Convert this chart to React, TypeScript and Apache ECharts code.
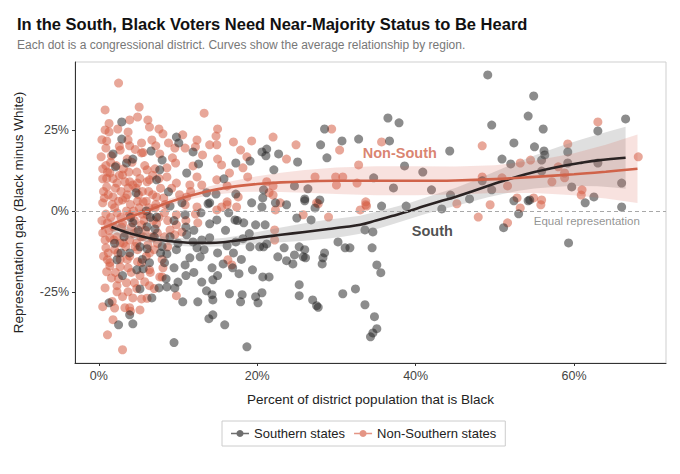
import React, { useEffect, useRef } from "react";
import * as echarts from "echarts";

// ---------------- DATA ----------------
const xTicks = [0, 20, 40, 60];
const yTicks = [-25, 0, 25];

const southPoints: [number, number][] = [
  [2.9, 27.5], [2.9, 22.2], [1.8, 17.6], [2.1, 13.6], [3.5, 14.8], [4.3, 16], [6.6, 18.5], [8.0, 15.7], [7.7, 12.7], [9.8, 22.8],
  [10.1, 21], [11.9, 18.2], [11.1, 11.7], [12.6, 14.5], [7.3, 9.6], [4.7, 5.6], [8.8, 5.9], [13.6, 5.6], [14.0, 2.5], [14.8, 5.2],
  [15.8, 9.9], [17.3, 14.8], [19.1, 15.4], [20.6, 18.2], [21.1, 17], [19.3, 2.5], [20.7, 4], [17.3, 5.2], [20.6, 1.2], [9.0, 1.5],
  [10.5, 2.5], [4.3, -3.7], [7.3, -1.9], [10.9, -1.2], [12.9, -0.6], [13.8, 2.2], [14.9, -2.8], [16.4, -0.6], [17.2, -2.8], [18.3, -3.7],
  [19.8, -4.3], [21, -4.3], [6.1, -4.9], [7.1, -5.6], [2.3, -15.1], [2.8, -13], [3.9, -13], [5.2, -11.1], [6.1, -11.7], [7.8, -13],
  [8.6, -13.3], [9.8, -12], [11.1, -7.4], [11.9, -9.6], [12.4, -11.4], [13.3, -12], [14, -8.3], [16.2, -10.8], [17.3, -9.6], [18.2, -8.6],
  [19.1, -11.1], [20.3, -11.1], [21.2, -10.2], [4.8, -18.2], [5.6, -17.9], [6.4, -16], [8.3, -16], [9.5, -17.6], [10.9, -16.7], [11.5, -14.5],
  [12.8, -14.2], [14.3, -17.6], [14.4, -21.3], [15.7, -16.4], [16.9, -17.6], [17.7, -19.4], [19.4, -18.2], [20.7, -20.4], [21.5, -20.4], [5.2, -24.1],
  [6.7, -26.9], [7.6, -23.8], [8.6, -23.5], [9.6, -23.8], [10.6, -28.1], [12.5, -28.1], [13.6, -24.7], [14.3, -25.9], [14.4, -27.5], [16.5, -25.6],
  [18.1, -25.9], [17.9, -28.1], [19.8, -26.5], [20.1, -28.4], [1.3, -28.4], [3.9, -32.1], [4.3, -34.9], [2.5, -35.2], [14.4, -32.1], [13.9, -33.3],
  [15.9, -35.2], [9.5, -40.7], [18.7, -42],
  [36.5, 28.7], [37.9, 27.2], [28.5, 25.3], [30.7, 21.6], [32.8, 22.2], [36.7, 21.6], [28.0, 20.4], [28.8, 16.4], [44.3, 18.5], [21.2, 19.1],
  [22.7, 17.6], [25.1, 15.1], [22.1, 12.7], [38.6, 13.9], [40.9, 12], [34.7, 10.2], [24.7, 7.7], [26.4, 6.8], [37.2, 7.1], [42, 6.5],
  [26, 3.7], [27.9, 3.4], [20.8, 6.5], [22.3, 2.5], [23.7, 1.9], [27.3, 0.9], [35.7, 1.5], [38.8, 1.5], [44.4, 4.9], [43.3, 0.6],
  [20.8, -11.1], [23.4, -11.4], [22.6, -14.2], [23.7, -15.4], [24.5, -16.4], [24.7, -13.6], [25.3, -11.1], [26, -12], [25.8, -14.2], [26.1, -14.5],
  [25, -2.2], [26.8, -2.8], [26, 3.1], [28.5, -13], [28.3, -14.5], [28.2, -16.4], [30.2, -9.6], [31.1, -11.4], [31.7, -11.4], [33.6, -5.9],
  [34.6, -6.5], [34.5, -11.4], [35.1, -16.7], [35.6, -19.1], [20.6, -25.3], [25.3, -22.8], [25.3, -26.2], [27, -27.5], [27.5, -29.3], [27.7, -29.8],
  [30.8, -25.6], [32.4, -24.1], [33.6, -29], [34.8, -32.7], [35.1, -36.4], [34.6, -37.7], [34.3, -38.9],
  [49.1, 42], [54.9, 35.5], [54.2, 29.3], [49.6, 26.5], [56.1, 25.3], [66.5, 28.4], [63, 24.7], [52.4, 21], [55, 19.8], [56.2, 18.5],
  [56.3, 17.3], [50.9, 16], [52, 14.5], [55.9, 15.7], [59.2, 18.2], [59.2, 14.8], [55.9, 12.3], [63, 14.8], [48.4, 9.3], [49.6, 6.5],
  [59.7, 7.4], [66, 8.6], [46.8, 3.7], [52.4, 3.1], [54.2, 3.1], [54.4, 3.4], [61.4, 2.5], [62.5, 4.3], [53, -0.9], [66, 1.2],
  [51.1, -5.2], [59.3, -9.9],
  [3.2, -8], [4, -2], [5, -6], [5.5, -15], [6.5, -2], [3, -20], [2, -10], [6, 0], [7, -8], [8, -11],
  [9, -8], [10, -10], [11, -5], [12, -6], [13, -9], [9.5, -3], [8.5, -21], [10, -22], [11, -20], [12, -19],
  [13, -22], [15, -13], [16, -6], [17, -13], [18, -15], [19, -7], [15, -20], [14, -4], [17.5, -3],
];

const nonSouthPoints: [number, number][] = [
  [2.5, 39.5], [0.8, 31.2], [5.1, 32.1], [13.3, 30.2], [4.9, 29], [3.9, 28.1], [6.2, 28.1], [0.8, 25], [1.3, 24.4], [2.4, 25.3],
  [3.7, 24.4], [6.4, 25.9], [7.6, 25.3], [8.1, 23.8], [10.6, 23.5], [12.4, 21.9], [15, 25.3], [14.8, 23.1], [14, 20.4], [14.9, 20.4],
  [17, 21.3], [19.3, 21.6], [1, 21.6], [0.9, 19.4], [0.3, 16.7], [2.7, 18.8], [3.9, 20.1], [3.7, 21.9], [5.4, 21], [6.7, 21.9],
  [7.2, 20.1], [8.8, 21], [9.6, 19.4], [10.9, 19.4], [12.2, 19.8], [5.4, 17.9], [7.7, 17.6], [9.3, 16.4], [13.1, 17.3], [15, 16],
  [15.5, 14.2], [17.9, 18.8], [18.7, 16.7], [0.5, 13], [1.4, 11.7], [3, 11.1], [4.8, 12], [6.1, 12.7], [8.6, 13.3], [9.7, 14.8],
  [11.9, 13.9], [16.5, 11.7], [18.2, 13.3], [18.8, 10.5], [0.5, 9.9], [1, 7.4], [2.3, 8.6], [3.7, 7.1], [4.9, 8.6], [6.4, 9.6],
  [8.6, 10.5], [9.8, 8.6], [11.5, 8], [12.4, 10.5], [14.9, 9.6], [16.2, 7.7], [17.6, 4.3], [0.5, 2.5], [1.8, 4.3], [3, 3.4],
  [5.6, 2.8], [7.3, 4.3], [11.1, 4.3], [12.4, 1.2], [15.5, 1.2], [16.2, 2.8],
  [0.5, -6.8], [0.9, -11.4], [1.1, -15.1], [1, -18.8], [0.8, -23.8], [0.5, -29.6], [1.8, -33.6], [1.1, -38.3], [3, -42.9], [3, -26.5],
  [3.3, -29.9], [3.9, -29.9], [4.3, -26.9], [5.2, -30.6], [5.4, -27.2], [2.3, -23.1], [2.5, -21], [1.6, -20.7], [3.5, -22.2], [4.5, -22.2],
  [5.8, -21.9], [6.4, -23.1], [7.7, -20.4], [9.8, -26.2], [1.4, -8.3], [2, -12], [2.7, -9.9], [3.3, -6.8], [3.9, -9], [4.8, -6.5],
  [5.6, -8], [4.8, -9.9], [6.2, -10.5], [6.8, -8.3], [7.4, -6.8], [8.3, -8], [9, -5.9], [9.8, -4.3], [10.5, -6.5], [12.5, -3.7],
  [4.9, -15.7], [6.4, -18.2], [8.1, -17.6], [8, -20.4], [1.4, -16], [2.7, -17.3], [3.7, -17.6], [8.3, -0.6], [9.8, -1.2], [10.9, 1.9],
  [14.9, 0.3], [16.2, 1.9], [17.4, 1.2], [6.1, -1.2], [7.1, 0.9], [3.9, -1.2], [2.3, -0.6], [1.1, -3.7], [5.4, -4.3], [9.6, -7.4],
  [8.7, -11.1], [16.3, -15.1], [16.8, -16.7],
  [22, 22.8], [24.9, 20.4], [29.4, 25.3], [30.4, 18.8], [35.7, 21.3], [23.7, 16], [32.8, 14.2], [27.3, 10.5], [29.9, 10.5], [30.8, 10.5],
  [30, 8], [32.6, 8.6], [21.2, 9], [22, 7.7], [21.5, 5.6], [22, 4.9], [33.7, 2.8], [33.8, 1.5], [22.9, 2.5], [27.5, 2.5],
  [45.2, 2.2], [22.2, -5.9], [22.2, -9], [22.3, 0.3], [25.8, -1.2], [29, -1.9], [33, 0.3], [33.7, 1.9], [27.7, 2.2],
  [48.4, 20.1], [63, 27.5], [59.2, 20.7], [53.2, 14.8], [54.5, 15.7], [58, 13.6], [48.4, 10.5], [50.9, 10.2], [51.6, 7.7], [57.2, 9],
  [58.8, 11.7], [58.8, 10.2], [68.1, 16.7], [49.4, 1.9], [52.8, 4], [54.9, 4], [55.9, 3.4], [55.8, 1.9], [53.2, 0.9], [61, 6.5],
  [60.9, 4.9], [47.9, -1.9], [51.6, -3.7],
  [1.2, 5], [1.5, -2], [2, 1], [2.5, 3], [3, -4], [3.5, 0], [4, 2], [4.5, -3], [5, 5], [5.5, -1],
  [6, 3], [1.8, 10], [2.2, 14], [2.8, 6], [3.3, 9], [3.8, 12], [4.2, 15], [4.7, 7], [5.2, 10], [5.8, 14],
  [6.3, 6], [6.8, 11], [7.2, 2], [7.8, 7], [1.3, -6], [1.9, -9], [2.4, -13], [2.9, -5], [3.4, -11], [3.9, -14],
  [4.4, -7], [4.9, -12], [5.4, -16], [5.9, -6], [6.4, -13], [6.9, -3], [7.4, -10], [1.6, 17], [2.6, 20], [3.6, 16],
  [4.6, 19], [5.6, 18], [0.7, 4], [0.9, -1], [1.1, 12], [1.4, -17], [2.1, -19], [2.7, -15], [3.1, 13], [3.6, 5],
  [4.1, -5], [4.3, 8], [5.1, 1], [5.3, -8], [6.1, 9], [6.6, -8], [7.1, 13], [7.6, -2], [8.2, 4], [8.7, -3],
  [9.2, 7], [10.2, 5], [11, -3], [11.6, 6], [12.2, -1], [13, 8], [2.3, -25], [3.7, -25], [1.7, -28], [4.8, -24],
  [0.4, -3], [0.6, 6], [0.8, -9], [1, 10], [1.2, -13], [1.5, 15], [1.7, 2], [1.9, -5], [2.1, 7], [2.3, -8],
  [2.6, 11], [2.8, -2], [3.1, -10], [3.4, 4], [3.6, -15], [3.9, 9], [4.1, -19], [4.4, 0], [4.6, -11], [4.9, 3],
  [5.2, -20], [5.5, 6], [5.7, -3], [6, -14], [6.3, 1], [6.5, -19], [6.8, 5], [7, -12], [7.3, -4], [7.6, 10],
  [8, -15], [8.4, 2], [1.3, 27], [0.6, -14], [0.9, 14], [2, -30], [4, -31], [6.1, -27], [7, -24], [0.4, 22],
];

// Smoothed fits
const southCurveX = [1.6, 4, 6, 8, 10, 12, 14, 16, 18, 20, 23, 26, 29, 31, 33, 35, 37, 39, 41, 43, 45, 47, 49, 51, 53, 55, 57, 59, 61, 63, 65, 66.5];
const southFit = [-5.0, -7.0, -8.2, -9.1, -9.6, -9.9, -9.9, -9.6, -9.0, -8.3, -7.4, -6.5, -5.6, -5.0, -4.3, -3.0, -1.6, -0.2, 1.4, 2.9, 4.3, 5.9, 7.6, 9.2, 10.7, 12.0, 13.1, 14.1, 14.9, 15.6, 16.1, 16.4];
const southLow = [-7.0, -8.6, -9.6, -10.4, -10.8, -11.1, -11.1, -10.9, -10.5, -10.1, -9.7, -9.2, -8.5, -7.9, -7.1, -5.7, -4.2, -2.7, -1.1, 0.3, 1.5, 2.8, 4.1, 5.2, 6.2, 6.9, 7.3, 7.6, 7.7, 7.6, 7.2, 6.8];
const southHigh = [-3.0, -5.4, -6.8, -7.8, -8.4, -8.7, -8.7, -8.3, -7.5, -6.5, -5.1, -3.8, -2.7, -2.1, -1.5, -0.3, 1.0, 2.3, 3.9, 5.5, 7.1, 9.0, 11.1, 13.2, 15.2, 17.1, 18.9, 20.6, 22.1, 23.6, 25.0, 26.0];

const nonSouthCurveX = [0.3, 2, 4, 6, 8, 10, 12, 14, 16, 18, 20, 23, 26, 30, 35, 40, 45, 50, 55, 60, 64, 68];
const nonSouthFit = [-5.5, -3.8, -1.8, -0.1, 1.9, 3.6, 5.0, 6.2, 7.1, 7.8, 8.3, 8.8, 9.1, 9.3, 9.3, 9.3, 9.4, 9.8, 10.5, 11.3, 12.1, 13.0];
const nonSouthLow = [-8.1, -5.7, -3.2, -1.3, 0.8, 2.5, 3.8, 4.8, 5.4, 5.8, 5.9, 5.8, 5.6, 5.2, 4.8, 4.8, 5.1, 5.5, 5.5, 4.8, 3.8, 2.4];
const nonSouthHigh = [-2.9, -1.9, -0.4, 1.1, 3.0, 4.7, 6.2, 7.6, 8.8, 9.8, 10.7, 11.8, 12.6, 13.4, 13.8, 13.8, 13.7, 14.1, 15.5, 17.8, 20.4, 23.6];

// ---------------- STYLE ----------------
const FONT = "'Liberation Sans', Arial, Helvetica, sans-serif";
const SOUTH_PT = "rgba(34,34,34,0.65)";
const NONSOUTH_PT = "rgba(212,93,67,0.68)";
const SOUTH_LINE = "#2a2323";
const NONSOUTH_LINE = "#d0634a";

function ribbon(xs: number[], lo: number[], hi: number[], fill: string, z: number) {
  return {
    type: "custom",
    silent: true,
    z,
    clip: true,
    data: [[xs[0], lo[0]]],
    encode: { x: 0, y: 1 },
    renderItem: (_params: any, api: any) => {
      const pts: number[][] = [];
      for (let i = 0; i < xs.length; i++) pts.push(api.coord([xs[i], hi[i]]));
      for (let i = xs.length - 1; i >= 0; i--) pts.push(api.coord([xs[i], lo[i]]));
      return { type: "polygon", shape: { points: pts }, style: { fill, stroke: null } };
    },
  };
}

const legendIcon = "path://M0,5.2H20V6.8H0Z M10,2A4,4 0 1 1 9.99,2Z";

export default function App() {
  const ref = useRef<HTMLDivElement>(null);
  useEffect(() => {
    document.body.style.margin = "0";
    const chart = echarts.init(ref.current!, null, { renderer: "svg" });
    const option: any = {
      animation: false,
      textStyle: { fontFamily: FONT },
      title: {
        text: "In the South, Black Voters Need Near-Majority Status to Be Heard",
        subtext: "Each dot is a congressional district. Curves show the average relationship by region.",
        left: 12,
        top: 10,
        itemGap: 7,
        textStyle: { fontFamily: FONT, fontSize: 16.5, fontWeight: "bold", color: "#111" },
        subtextStyle: { fontFamily: FONT, fontSize: 12, color: "#777" },
      },
      grid: {
        left: 75, right: 14, top: 62, bottom: 111,
        show: true, borderColor: "#cfcfcf", borderWidth: 1, backgroundColor: "transparent",
      },
      xAxis: {
        type: "value",
        min: -3,
        max: 71.6,
        name: "Percent of district population that is Black",
        nameLocation: "middle",
        nameGap: 29,
        nameTextStyle: { fontFamily: FONT, fontSize: 13.5, color: "#222" },
        axisLine: { show: true, onZero: false, lineStyle: { color: "#333", width: 1 } },
        axisTick: { show: true, length: 3, customValues: xTicks, lineStyle: { color: "#333" } },
        axisLabel: {
          customValues: xTicks, margin: 6, fontSize: 12.5, color: "#444", fontFamily: FONT,
          formatter: (v: number) => `${v}%`,
        },
        splitLine: { show: false },
      },
      yAxis: {
        type: "value",
        min: -47,
        max: 46,
        name: "Representation gap (Black minus White)",
        nameLocation: "middle",
        nameGap: 50,
        nameTextStyle: { fontFamily: FONT, fontSize: 13.5, color: "#222" },
        axisLine: { show: true, onZero: false, lineStyle: { color: "#333", width: 1 } },
        axisTick: { show: true, length: 3, customValues: yTicks, lineStyle: { color: "#333" } },
        axisLabel: {
          customValues: yTicks, margin: 6, fontSize: 12.5, color: "#444", fontFamily: FONT,
          formatter: (v: number) => `${v}%`,
        },
        splitLine: { show: false },
      },
      legend: {
        left: 222,
        top: 421,
        orient: "horizontal",
        padding: [6, 9, 6, 9],
        borderColor: "#cccccc",
        borderWidth: 1,
        itemWidth: 18,
        itemHeight: 11,
        itemGap: 9,
        textStyle: { fontFamily: FONT, fontSize: 13, color: "#222" },
        data: [
          { name: "Southern states", icon: legendIcon, itemStyle: { color: "#4a4a4a" } },
          { name: "Non-Southern states", icon: legendIcon, itemStyle: { color: "#dd7a66" } },
        ],
      },
      series: [
        {
          name: "Non-Southern states",
          type: "scatter",
          z: 2,
          symbolSize: 9,
          itemStyle: { color: NONSOUTH_PT },
          data: nonSouthPoints,
          markLine: {
            silent: true,
            symbol: "none",
            label: { show: false },
            lineStyle: { type: [4, 3], color: "#a8a8a8", width: 1 },
            data: [{ yAxis: 0 }],
          },
        },
        {
          name: "Southern states",
          type: "scatter",
          z: 2,
          symbolSize: 9,
          itemStyle: { color: SOUTH_PT },
          data: southPoints,
        },
        ribbon(southCurveX, southLow, southHigh, "rgba(140,140,140,0.28)", 3),
        ribbon(nonSouthCurveX, nonSouthLow, nonSouthHigh, "rgba(214,96,77,0.18)", 3),
        {
          type: "line",
          silent: true,
          z: 4,
          smooth: 0.4,
          showSymbol: false,
          symbol: "none",
          lineStyle: { color: SOUTH_LINE, width: 2.6 },
          data: southCurveX.map((x, i) => [x, southFit[i]]),
        },
        {
          type: "line",
          silent: true,
          z: 4,
          smooth: 0.4,
          showSymbol: false,
          symbol: "none",
          lineStyle: { color: NONSOUTH_LINE, width: 2.6 },
          data: nonSouthCurveX.map((x, i) => [x, nonSouthFit[i]]),
        },
        {
          type: "scatter",
          silent: true,
          z: 6,
          symbolSize: 0,
          itemStyle: { color: "transparent" },
          label: { show: true, position: "inside", fontFamily: FONT },
          data: [
            { value: [38.0, 17.9], label: { formatter: "Non-South", color: NONSOUTH_LINE, fontWeight: "bold", fontSize: 14.5 } },
            { value: [42.1, -6.2], label: { formatter: "South", color: "#222", fontWeight: "bold", fontSize: 14.5 } },
            { value: [61.6, -3.1], label: { formatter: "Equal representation", color: "#777", fontSize: 11.5 } },
          ],
        },
      ],
    };
    chart.setOption(option);
    return () => chart.dispose();
  }, []);
  return <div ref={ref} style={{ width: 680, height: 474 }} />;
}
